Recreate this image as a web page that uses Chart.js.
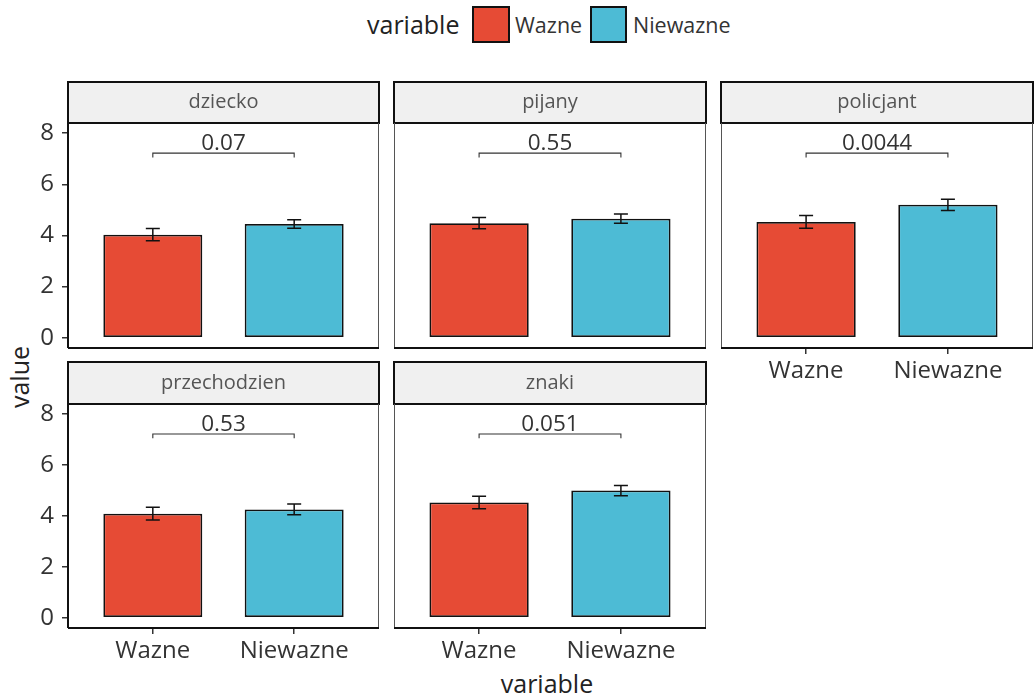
<!DOCTYPE html>
<html><head><meta charset="utf-8">
<script src="https://cdn.jsdelivr.net/npm/chart.js@4.4.0/dist/chart.umd.min.js"></script>
<style>
html,body{margin:0;padding:0;background:#fff;width:1034px;height:698px;overflow:hidden;font-family:"Open Sans",sans-serif;}
#root{position:relative;width:1034px;height:698px;}
.t{position:absolute;white-space:nowrap;color:#222;line-height:1;}
canvas{position:absolute;}
</style></head><body>
<div id="root">
  <div class="t" style="left:367px;top:12px;font-size:25px;">variable</div>
  <div class="t" style="left:472px;top:6px;width:34px;height:33px;background:#E64B35;border:2px solid #111;"></div>
  <div class="t" style="left:515px;top:14px;font-size:21.5px;color:#333;">Wazne</div>
  <div class="t" style="left:590px;top:6px;width:33px;height:33px;background:#4DBBD5;border:2px solid #111;"></div>
  <div class="t" style="left:633px;top:14px;font-size:21.5px;color:#333;">Niewazne</div>
  <div class="t" style="left:547px;top:683px;font-size:25px;transform:translate(-50%,-50%);">variable</div>
  <div class="t" style="left:19px;top:377px;font-size:25px;transform:translate(-50%,-50%) rotate(-90deg);">value</div>
</div>
<script>
// ---- data ----
const panelNames = ['dziecko', 'pijany', 'policjant', 'przechodzien', 'znaki'];
const categories = ['Wazne', 'Niewazne'];
const wazneMean = [4.03, 4.48, 4.53, 4.09, 4.53];
const wazneErr = [0.24, 0.22, 0.25, 0.25, 0.25];
const niewazneMean = [4.45, 4.66, 5.20, 4.26, 5.00];
const niewazneErr = [0.17, 0.18, 0.22, 0.21, 0.20];
const pValues = ['0.07', '0.55', '0.0044', '0.53', '0.051'];
const yTicks = [0, 2, 4, 6, 8];
const bracketY = 7.22;
const bracketTick = 0.17;

// ---- layout ----
const FONT = '"Open Sans", sans-serif';
const RED = '#E64B35', BLUE = '#4DBBD5';
const cols = [[68, 379], [394, 706], [721, 1033]];
const rows = [{strip: 82, top: 123, bottom: 348}, {strip: 362, top: 404, bottom: 628}];
const placement = [[0, 0], [0, 1], [0, 2], [1, 0], [1, 1]];
const showXLabels = [false, false, true, true, true];
const PAD = 3, YW = 68, XH = 45;

const panelPlugin = {
  id: 'panelDeco',
  beforeDraw(chart) {
    const a = chart.chartArea, ctx = chart.ctx, o = chart.options.plugins.panelDeco;
    ctx.save();
    const st = a.top - o.stripH;
    ctx.fillStyle = '#f0f0f0';
    ctx.fillRect(a.left, st, a.right - a.left, o.stripH);
    ctx.fillStyle = '#555';
    ctx.font = '20px ' + FONT;
    ctx.textAlign = 'center';
    ctx.textBaseline = 'middle';
    ctx.fillText(o.name, (a.left + a.right) / 2, st + o.stripH / 2);
    ctx.restore();
  },
  afterDatasetsDraw(chart) {
    const a = chart.chartArea, ctx = chart.ctx, o = chart.options.plugins.panelDeco;
    const xs = chart.scales.x, ys = chart.scales.y;
    const p = o.index;
    const means = [wazneMean[p], niewazneMean[p]];
    const errs = [wazneErr[p], niewazneErr[p]];
    ctx.save();
    ctx.strokeStyle = '#111';
    ctx.lineWidth = 1.5;
    for (let i = 0; i < 2; i++) {
      const x = xs.getPixelForValue(i + 1);
      const y1 = ys.getPixelForValue(means[i] + errs[i]);
      const y2 = ys.getPixelForValue(means[i] - errs[i]);
      ctx.beginPath();
      ctx.moveTo(x, y1); ctx.lineTo(x, y2);
      ctx.moveTo(x - 7, y1); ctx.lineTo(x + 7, y1);
      ctx.moveTo(x - 7, y2); ctx.lineTo(x + 7, y2);
      ctx.stroke();
    }
    // bracket
    const bx1 = xs.getPixelForValue(1), bx2 = xs.getPixelForValue(2);
    const by = ys.getPixelForValue(bracketY), byt = ys.getPixelForValue(bracketY - bracketTick);
    ctx.strokeStyle = '#333';
    ctx.lineWidth = 1.1;
    ctx.beginPath();
    ctx.moveTo(bx1, byt); ctx.lineTo(bx1, by); ctx.lineTo(bx2, by); ctx.lineTo(bx2, byt);
    ctx.stroke();
    ctx.fillStyle = '#333';
    ctx.font = '22.5px ' + FONT;
    ctx.textAlign = 'center';
    ctx.textBaseline = 'alphabetic';
    ctx.fillText(pValues[p], (bx1 + bx2) / 2, by - 3);
    // borders
    const st = a.top - o.stripH;
    ctx.strokeStyle = '#111';
    ctx.lineWidth = 2;
    ctx.strokeRect(a.left, st, a.right - a.left, o.stripH);
    ctx.strokeStyle = '#555';
    ctx.lineWidth = 1;
    ctx.beginPath();
    ctx.moveTo(a.right - 0.5, a.top); ctx.lineTo(a.right - 0.5, a.bottom);
    ctx.moveTo(a.left + 0.5, a.top); ctx.lineTo(a.left + 0.5, a.bottom);
    ctx.stroke();
    ctx.strokeStyle = '#111';
    ctx.lineWidth = 2;
    ctx.beginPath();
    ctx.moveTo(a.left, a.bottom); ctx.lineTo(a.right, a.bottom);
    if (o.col === 0) { ctx.moveTo(a.left, a.top); ctx.lineTo(a.left, a.bottom); }
    ctx.stroke();
    ctx.restore();
  }
};

const root = document.getElementById('root');
panelNames.forEach((name, p) => {
  const [r, c] = placement[p];
  const [L, R] = cols[c];
  const row = rows[r];
  const stripH = row.top - row.strip;
  const leftExtra = c === 0 ? YW : PAD;
  const bottomExtra = showXLabels[p] ? XH : PAD;
  const cl = L - leftExtra, ct = row.strip - PAD;
  const cw = (R - L) + leftExtra + PAD;
  const ch = (row.bottom - row.strip) + PAD + bottomExtra;
  const cv = document.createElement('canvas');
  cv.width = cw; cv.height = ch;
  cv.style.left = cl + 'px'; cv.style.top = ct + 'px';
  cv.style.width = cw + 'px'; cv.style.height = ch + 'px';
  root.appendChild(cv);
  const showY = c === 0, showX = showXLabels[p];
  new Chart(cv, {
    type: 'bar',
    data: {
      datasets: [{
        data: [{x: 1, y: wazneMean[p]}, {x: 2, y: niewazneMean[p]}],
        backgroundColor: [RED, BLUE],
        borderColor: '#111',
        borderWidth: 1.8,
        borderSkipped: false,
        barPercentage: 0.7,
        categoryPercentage: 1
      }]
    },
    options: {
      responsive: false,
      animation: false,
      events: [],
      devicePixelRatio: 1,
      layout: {padding: {left: 0, top: PAD + stripH, right: PAD, bottom: 0}},
      plugins: {
        legend: {display: false},
        tooltip: {enabled: false},
        panelDeco: {name: name, index: p, stripH: stripH, col: c}
      },
      scales: {
        x: {
          type: 'linear', min: 0.4, max: 2.6, offset: false,
          afterBuildTicks: s => { s.ticks = [{value: 1}, {value: 2}]; },
          afterFit: s => { s.height = bottomExtra; s.paddingLeft = 0; s.paddingRight = 0; s.paddingTop = 0; s.paddingBottom = 0; },
          grid: {offset: false, drawOnChartArea: false, drawTicks: showX, tickLength: 6, color: '#333', lineWidth: 1.5},
          border: {display: false},
          ticks: {display: showX, autoSkip: false, maxRotation: 0, padding: 3,
                  callback: v => categories[Math.round(v) - 1],
                  font: {family: FONT, size: 24}, color: '#333'}
        },
        y: {
          type: 'linear', min: -0.4, max: 8.4,
          afterBuildTicks: s => { s.ticks = yTicks.map(v => ({value: v})); },
          afterFit: s => { s.width = leftExtra; s.paddingTop = 0; s.paddingBottom = 0; s.paddingLeft = 0; s.paddingRight = 0; },
          grid: {drawOnChartArea: false, drawTicks: showY, tickLength: 6, color: '#333', lineWidth: 1.5},
          border: {display: false},
          ticks: {display: showY, padding: 8, callback: v => String(v),
                  font: {family: FONT, size: 24}, color: '#333'}
        }
      }
    },
    plugins: [panelPlugin]
  });
});
</script>
</body></html>
